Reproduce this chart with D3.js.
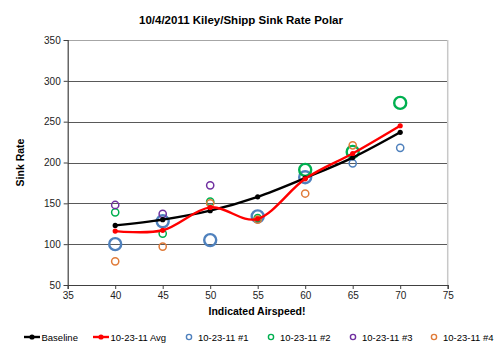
<!DOCTYPE html>
<html>
<head>
<meta charset="utf-8">
<script src="https://cdn.jsdelivr.net/npm/d3@7"></script>
<style>
  html, body { margin: 0; padding: 0; background: #fff; }
  svg { display: block; font-family: "Liberation Sans", Arial, sans-serif; }
</style>
</head>
<body>
<div id="chart"></div>
<script>
// ── Data ──
const speeds      = [40, 45, 50, 55, 60, 65, 70];
const baseline    = [123, 130, 141, 158, 181, 206, 237];
const avg         = [116, 117, 145, 131, 180, 211, 245];
const run1        = [100, 128, 105, 134, 182, 199, 218];
const run2        = [139, 113, 152, 132, 191, 213, 273];
const run3        = [148, 137, 172, null, null, null, null];
const run4        = [79, 97, 150, 130, 162, 221, null];
// points drawn with the larger marker
const run1Big     = [1, 1, 1, 1, 1, 0, 0];
const run2Big     = [0, 0, 0, 0, 1, 1, 1];
const xTicks      = [35, 40, 45, 50, 55, 60, 65, 70, 75];
const yTicks      = [50, 100, 150, 200, 250, 300, 350];

const W = 500, H = 352;
const M = { left: 67.7, right: 52.3, top: 40, bottom: 67 };

const svg = d3.select('#chart').append('svg')
  .attr('width', W).attr('height', H);

const x = d3.scaleLinear().domain([35, 75]).range([M.left, W - M.right]);
const y = d3.scaleLinear().domain([50, 350]).range([H - M.bottom, M.top]);

// ── Title ──
svg.append('text')
  .attr('x', 241).attr('y', 24)
  .attr('text-anchor', 'middle')
  .attr('font-size', 11.5).attr('font-weight', 'bold')
  .text('10/4/2011 Kiley/Shipp Sink Rate Polar');

// ── Grid ──
const grid = svg.append('g');
grid.selectAll('line').data(yTicks.filter(v => v > 50)).join('line')
  .attr('x1', x(35)).attr('x2', x(75))
  .attr('y1', d => Math.round(y(d)) + 0.5).attr('y2', d => Math.round(y(d)) + 0.5)
  .attr('stroke', d => d === 350 ? '#a6a6a6' : '#595959')
  .attr('stroke-width', d => d === 350 ? 1 : 1.2);
svg.append('line')
  .attr('x1', x(75)).attr('x2', x(75))
  .attr('y1', y(350)).attr('y2', y(50))
  .attr('stroke', '#c8c8c8').attr('stroke-width', 1.5);

// ── Axes ──
const xAxis = svg.append('g')
  .attr('transform', `translate(0,${y(50)})`)
  .call(d3.axisBottom(x).tickValues(xTicks).tickSize(4).tickPadding(3));
const yAxis = svg.append('g')
  .attr('transform', `translate(${x(35)},0)`)
  .call(d3.axisLeft(y).tickValues(yTicks).tickSize(4).tickPadding(3));
[xAxis, yAxis].forEach(a => {
  a.select('.domain').attr('stroke', '#404040').attr('stroke-width', 1.2);
  a.selectAll('.tick line').attr('stroke', '#404040');
  a.selectAll('.tick text').attr('font-size', 10).attr('fill', '#222')
    .attr('font-family', '"Liberation Sans", Arial, sans-serif');
});

svg.append('text')
  .attr('x', 257).attr('y', 315)
  .attr('text-anchor', 'middle')
  .attr('font-size', 10.5).attr('font-weight', 'bold')
  .text('Indicated Airspeed!');
svg.append('text')
  .attr('transform', `translate(24,${y(200)}) rotate(-90)`)
  .attr('text-anchor', 'middle')
  .attr('font-size', 10.5).attr('font-weight', 'bold')
  .text('Sink Rate');

// ── Scatter runs ──
const runs = [
  { vals: run1, big: run1Big, color: '#4f81bd' },
  { vals: run2, big: run2Big, color: '#00b050' },
  { vals: run3, big: null,    color: '#7030a0' },
  { vals: run4, big: null,    color: '#e07b39' },
];
runs.forEach(r => {
  const pts = speeds.map((s, i) => ({ s, v: r.vals[i], big: r.big ? r.big[i] : 0 }))
    .filter(p => p.v != null);
  svg.append('g').selectAll('circle').data(pts).join('circle')
    .attr('cx', d => x(d.s)).attr('cy', d => y(d.v))
    .attr('r', d => d.big ? 6 : 3.6)
    .attr('fill', 'none')
    .attr('stroke', r.color)
    .attr('stroke-width', d => d.big ? 2.4 : 1.5);
});

// ── Lines ──
const line = d3.line()
  .x((d, i) => x(speeds[i])).y(d => y(d))
  .curve(d3.curveCatmullRom.alpha(0));
[{ vals: baseline, color: '#000' }, { vals: avg, color: '#ff0000' }].forEach(s => {
  svg.append('path').datum(s.vals)
    .attr('d', line)
    .attr('fill', 'none').attr('stroke', s.color).attr('stroke-width', 2.4);
  svg.append('g').selectAll('circle').data(s.vals).join('circle')
    .attr('cx', (d, i) => x(speeds[i])).attr('cy', d => y(d))
    .attr('r', 2.6).attr('fill', s.color);
});

// ── Legend ──
const legend = svg.append('g').attr('font-size', 9.5);
const lineItems = [
  { label: 'Baseline',     color: '#000',    x0: 24 },
  { label: '10-23-11 Avg', color: '#ff0000', x0: 93 },
];
lineItems.forEach(it => {
  legend.append('line')
    .attr('x1', it.x0).attr('x2', it.x0 + 16).attr('y1', 337).attr('y2', 337)
    .attr('stroke', it.color).attr('stroke-width', 2.4);
  legend.append('circle').attr('cx', it.x0 + 8).attr('cy', 337).attr('r', 2.6).attr('fill', it.color);
  legend.append('text').attr('x', it.x0 + 17.5).attr('y', 340.5).text(it.label);
});
const dotItems = [
  { label: '10-23-11 #1', color: '#4f81bd', x0: 189 },
  { label: '10-23-11 #2', color: '#00b050', x0: 271 },
  { label: '10-23-11 #3', color: '#7030a0', x0: 353 },
  { label: '10-23-11 #4', color: '#e07b39', x0: 434 },
];
dotItems.forEach(it => {
  legend.append('circle').attr('cx', it.x0).attr('cy', 337).attr('r', 2.6)
    .attr('fill', 'none').attr('stroke', it.color).attr('stroke-width', 1.4);
  legend.append('text').attr('x', it.x0 + 9).attr('y', 340.5).text(it.label);
});
</script>
</body>
</html>
